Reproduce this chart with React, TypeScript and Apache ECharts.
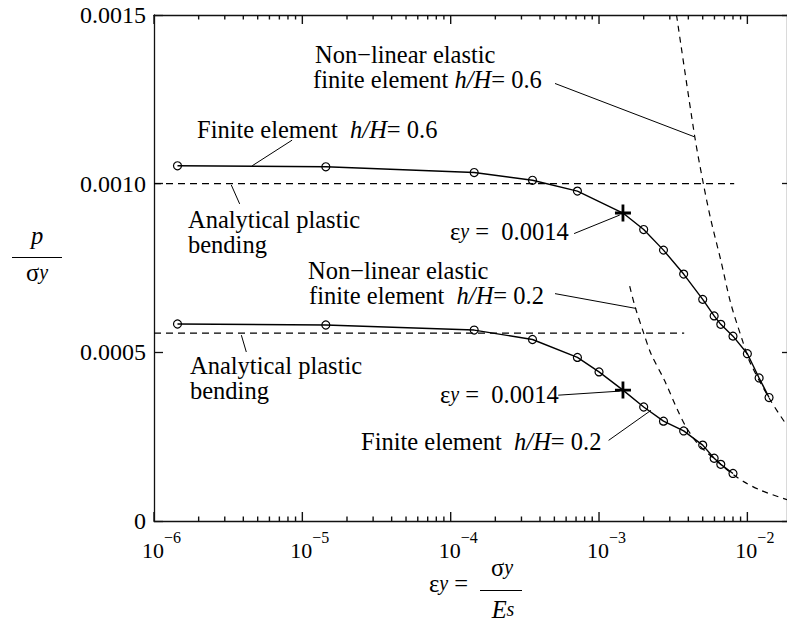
import React, { useEffect, useRef } from 'react';
import * as echarts from 'echarts';

const FONT = 'Liberation Serif';
const FS = 24.5;
const FS_SUB = 20;

// axis ranges & ticks
const X_MIN = 1e-6;
const X_MAX = 0.0185;
const majorXTicks = [1e-6, 1e-5, 1e-4, 1e-3, 1e-2];
const minorXTicks: number[] = [];
for (const dec of [1e-6, 1e-5, 1e-4, 1e-3]) {
  for (const m of [2, 3, 4, 5, 6, 7, 8, 9]) minorXTicks.push(+(m * dec).toPrecision(3));
}
const Y_MIN = 0;
const Y_MAX = 0.0015;
const Y_STEP = 0.0005;

// Finite element h/H = 0.6
const fe06X = [1.44e-6, 1.44e-5, 1.44e-4, 3.56e-4, 7.15e-4, 1.45e-3, 2.0e-3, 2.72e-3, 3.72e-3, 5.0e-3, 5.97e-3, 6.62e-3, 8.0e-3, 1.0e-2, 1.2e-2, 1.4e-2];
const fe06P = [0.001053, 0.00105, 0.001033, 0.00101, 0.000978, 0.000913, 0.000864, 0.000803, 0.000732, 0.000657, 0.000608, 0.000583, 0.000548, 0.000496, 0.000424, 0.000366];
const fe06Yield = 5; // index of eps_y = 0.0014 point

// Finite element h/H = 0.2
const fe02X = [1.44e-6, 1.44e-5, 1.44e-4, 3.56e-4, 7.15e-4, 1.0e-3, 1.45e-3, 2.0e-3, 2.72e-3, 3.72e-3, 5.0e-3, 5.97e-3, 6.62e-3, 8.0e-3];
const fe02P = [0.000584, 0.000581, 0.000566, 0.000538, 0.000485, 0.000442, 0.000388, 0.000338, 0.000296, 0.000267, 0.000225, 0.000186, 0.000168, 0.000141];
const fe02Yield = 6;

// Non-linear elastic finite element
const nl06X = [3.33e-3, 4.42e-3, 5.04e-3, 5.68e-3, 6.62e-3, 7.73e-3, 9.25e-3, 1.05e-2, 1.43e-2, 1.85e-2];
const nl06P = [0.0015, 0.001139, 0.001002, 0.000892, 0.000773, 0.000645, 0.000536, 0.000467, 0.000358, 0.000283];
const nl02X = [1.61e-3, 1.75e-3, 2.0e-3, 2.24e-3, 2.76e-3, 3.39e-3, 3.86e-3, 4.61e-3, 5.5e-3, 6.6e-3, 8.0e-3, 9.5e-3, 1.23e-2, 1.85e-2];
const nl02P = [0.000696, 0.000635, 0.000557, 0.000496, 0.000417, 0.000328, 0.000279, 0.00023, 0.000198, 0.000168, 0.000138, 0.000116, 0.000091, 0.000063];

// Analytical plastic bending
const plastic06X = [1e-6, 8.15e-3];
const plastic06P = [0.001, 0.001];
const plastic02X = [1e-6, 3.75e-3];
const plastic02P = [0.000557, 0.000557];

// leader lines (data coordinates)
const leaders: number[][][] = [
  [[5.05e-4, 0.001297], [4.39e-3, 0.001139]],
  [[8.53e-6, 0.001129], [4.59e-6, 0.001053]],
  [[3.32e-6, 0.000996], [3.78e-6, 0.00094]],
  [[6.79e-4, 0.000852], [1.38e-3, 0.000907]],
  [[5.05e-4, 0.000674], [1.78e-3, 0.00063]],
  [[3.88e-6, 0.000551], [4.19e-6, 0.000501]],
  [[5.31e-4, 0.000373], [1.38e-3, 0.000385]],
  [[1.16e-3, 0.000239], [2.24e-3, 0.000328]],
];

const PLUS = 'path://M6.6,0H9.4V6.6H16V9.4H9.4V16H6.6V9.4H0V6.6H6.6Z';

const zip = (xs: number[], ys: number[]) => xs.map((x, i) => [x, ys[i]]);

function feData(xs: number[], ys: number[], yieldIdx: number) {
  return xs.map((x, i) =>
    i === yieldIdx
      ? { value: [x, ys[i]], symbol: PLUS, symbolSize: [16, 17], itemStyle: { color: '#000', borderWidth: 0 } }
      : { value: [x, ys[i]] }
  );
}

const baseRich = {
  n: { fontFamily: FONT, fontSize: FS, fill: '#000' },
  i: { fontFamily: FONT, fontSize: FS, fontStyle: 'italic', fill: '#000' },
  sub: { fontFamily: FONT, fontSize: FS_SUB, fontStyle: 'italic', fill: '#000' },
};

function txt(x: number, y: number, text: string, align: string = 'left') {
  return {
    type: 'text',
    x,
    y,
    silent: true,
    style: {
      text,
      rich: baseRich,
      fontFamily: FONT,
      fontSize: FS,
      fill: '#000',
      align,
      verticalAlign: 'middle',
    },
  };
}

const TICK_COLOR = '#111';

export default function App() {
  const ref = useRef<HTMLDivElement>(null);
  useEffect(() => {
    if (!ref.current) return;
    const chart = echarts.init(ref.current, undefined, { renderer: 'svg' });
    const axisLineStyle = { color: TICK_COLOR, width: 1.3 };
    const xBase = {
      type: 'log',
      logBase: 10,
      min: X_MIN,
      max: X_MAX,
      splitLine: { show: false },
      axisTick: { show: false },
      axisLine: { show: true, onZero: false, lineStyle: axisLineStyle },
    };
    const dashed = (data: number[][], dash: number[]) => ({
      type: 'line',
      data,
      symbol: 'none',
      silent: true,
      lineStyle: { color: '#000', width: 1.2, type: dash },
    });
    const feSeries = (data: any[]) => ({
      type: 'line',
      data,
      symbol: 'circle',
      symbolSize: 8,
      silent: true,
      z: 5,
      lineStyle: { color: '#000', width: 1.4 },
      itemStyle: { color: 'rgba(0,0,0,0)', borderColor: '#000', borderWidth: 1.2 },
    });
    // [value, y, length, side(0 bottom / 1 top)]
    const tickData: number[][] = [];
    for (const side of [0, 1]) {
      for (const v of majorXTicks) tickData.push([v, Y_MIN, 9, side]);
      for (const v of minorXTicks) tickData.push([v, Y_MIN, 4.5, side]);
    }
    chart.setOption({
      animation: false,
      backgroundColor: '#fff',
      grid: { left: 154, top: 15, width: 636, height: 506, containLabel: false },
      xAxis: [
        {
          ...xBase,
          position: 'bottom',
          axisLabel: {
            customValues: majorXTicks,
            margin: 8,
            formatter: (v: number) => `{pad|}{b|10}{s|−${Math.round(-Math.log10(v))}}`,
            rich: {
              pad: { width: 15 },
              b: { fontFamily: FONT, fontSize: 22, color: '#000', padding: [10, 0, 0, 0], verticalAlign: 'bottom' },
              s: { fontFamily: FONT, fontSize: 16, color: '#000', verticalAlign: 'top' },
            },
          },
        },
        {
          ...xBase,
          position: 'top',
          axisLabel: { show: false },
        },
      ],
      yAxis: [
        {
          type: 'value',
          min: Y_MIN,
          max: Y_MAX,
          interval: Y_STEP,
          position: 'left',
          splitLine: { show: false },
          axisLine: { show: true, onZero: false, lineStyle: axisLineStyle },
          axisTick: { inside: true, length: 9, lineStyle: axisLineStyle },
          axisLabel: {
            margin: 8,
            color: '#000',
            fontFamily: FONT,
            fontSize: 24,
            formatter: (v: number) => (v === 0 ? '0' : v.toFixed(4)),
          },
        },
        {
          type: 'value',
          min: Y_MIN,
          max: Y_MAX,
          interval: Y_STEP,
          position: 'right',
          splitLine: { show: false },
          axisLine: { show: true, onZero: false, lineStyle: axisLineStyle },
          axisTick: { inside: true, length: 5, lineStyle: axisLineStyle },
          axisLabel: { show: false },
        },
      ],
      series: [
        dashed(zip(plastic06X, plastic06P), [7, 5]),
        dashed(zip(plastic02X, plastic02P), [7, 5]),
        { ...dashed(zip(nl06X, nl06P), [6, 5]), smooth: 0.3 },
        { ...dashed(zip(nl02X, nl02P), [6, 5]), smooth: 0.3 },
        feSeries(feData(fe06X, fe06P, fe06Yield)),
        feSeries(feData(fe02X, fe02P, fe02Yield)),
        ...leaders.map((seg) => ({
          type: 'line',
          data: seg,
          symbol: 'none',
          silent: true,
          lineStyle: { color: '#000', width: 1 },
        })),
        {
          type: 'custom',
          clip: false,
          encode: { x: 0, y: 1 },
          data: tickData,
          renderItem: (params: any, api: any) => {
            const v = api.value(0);
            const len = api.value(2);
            const top = api.value(3) === 1;
            const p = api.coord([v, top ? Y_MAX : Y_MIN]);
            return {
              type: 'line',
              shape: { x1: p[0], y1: p[1], x2: p[0], y2: top ? p[1] + len : p[1] - len },
              style: { stroke: TICK_COLOR, lineWidth: 1.4 },
            };
          },
        },
      ],
      graphic: [
        txt(315, 54, '{n|Non−linear elastic}'),
        txt(313, 79, '{n|finite element }{i|h/H}{n|= 0.6}'),
        txt(197, 129, '{n|Finite element  }{i|h/H}{n|= 0.6}'),
        txt(188, 219, '{n|Analytical plastic}'),
        txt(188, 244, '{n|bending}'),
        txt(450, 231, '{n|ε}{sub|y}{n| =  0.0014}'),
        txt(308, 270, '{n|Non−linear elastic}'),
        txt(309, 295, '{n|finite element  }{i|h/H}{n|= 0.2}'),
        txt(190, 365, '{n|Analytical plastic}'),
        txt(190, 390, '{n|bending}'),
        txt(440, 394, '{n|ε}{sub|y}{n| =  0.0014}'),
        txt(361, 441, '{n|Finite element  }{i|h/H}{n|= 0.2}'),
        // y axis title
        txt(37, 235, '{i|p}', 'center'),
        { type: 'line', silent: true, shape: { x1: 12, y1: 257.5, x2: 62, y2: 257.5 }, style: { stroke: '#000', lineWidth: 1.2 } },
        txt(37, 272, '{n|σ}{sub|y}', 'center'),
        // x axis title
        txt(429, 583, '{n|ε}{sub|y}{n| =}'),
        txt(502, 567, '{n|σ}{sub|y}', 'center'),
        { type: 'line', silent: true, shape: { x1: 480, y1: 590.5, x2: 522, y2: 590.5 }, style: { stroke: '#000', lineWidth: 1.2 } },
        txt(503, 609, '{i|E}{sub|s}', 'center'),
      ],
    });
    return () => chart.dispose();
  }, []);
  return <div ref={ref} style={{ position: 'absolute', left: 0, top: 0, width: 787, height: 624 }} />;
}
